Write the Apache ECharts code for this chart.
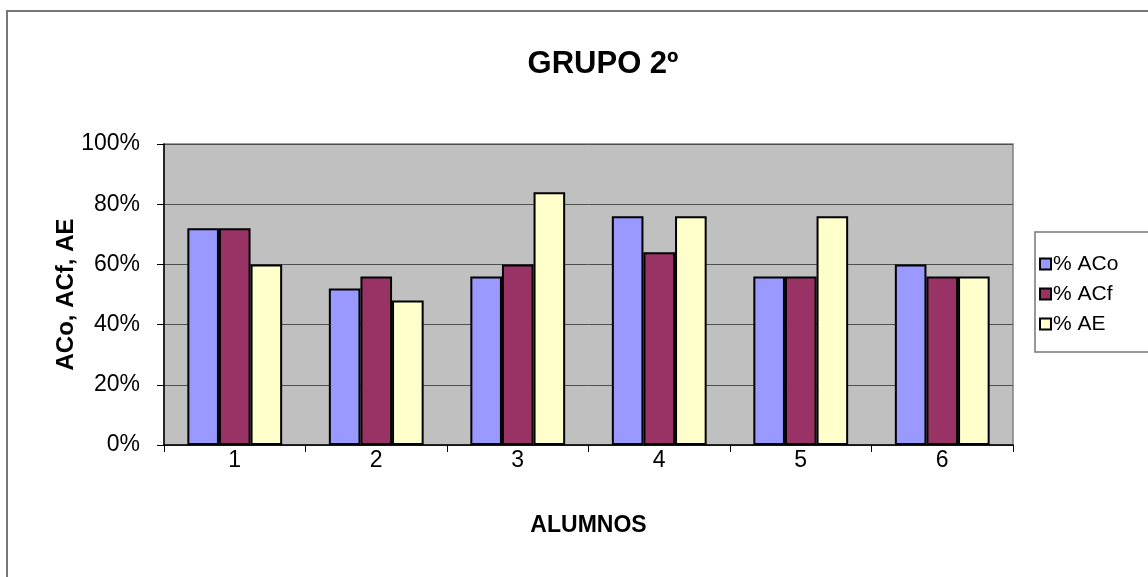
<!DOCTYPE html>
<html>
<head>
<meta charset="utf-8">
<script src="https://cdn.jsdelivr.net/npm/echarts@6/dist/echarts.min.js"></script>
<style>
  html, body { margin: 0; padding: 0; background: #fff; }
  #chart { width: 1148px; height: 577px; }
</style>
</head>
<body>
<div id="chart"></div>
<script>
// Student groups and the three percentage measures per student
const alumnos = ['1', '2', '3', '4', '5', '6'];
const seriesNames = ['% ACo', '% ACf', '% AE'];
const aco = [72, 52, 56, 76, 56, 60];
const acf = [72, 56, 60, 64, 56, 56];
const ae  = [60, 48, 84, 76, 76, 56];
const yTicks = [0, 20, 40, 60, 80, 100];

const colors = ['#9999FF', '#993366', '#FFFFCC'];
const font = 'Liberation Sans, Arial, sans-serif';

const chart = echarts.init(document.getElementById('chart'), null, { renderer: 'canvas' });

const values = [aco, acf, ae];
const series = seriesNames.map((name, i) => ({
  name: name,
  type: 'bar',
  data: values[i],
  barGap: '0%',
  barCategoryGap: '33%',
  itemStyle: { color: colors[i], borderColor: '#000', borderWidth: 2 },
  emphasis: { disabled: true }
}));

chart.setOption({
  animation: false,
  backgroundColor: '#fff',
  title: {
    text: 'GRUPO 2º',
    left: 598,
    textAlign: 'center',
    top: 44,
    textStyle: { fontFamily: font, fontSize: 31, fontWeight: 'bold', color: '#000' }
  },
  graphic: [
    {
      // outer chart frame
      type: 'rect',
      shape: { x: 7, y: 11, width: 1160, height: 600 },
      style: { fill: 'none', stroke: '#777', lineWidth: 2 },
      silent: true
    },
    {
      // legend frame
      type: 'rect',
      shape: { x: 1035, y: 232, width: 130, height: 120 },
      style: { fill: 'none', stroke: '#777', lineWidth: 1.5 },
      silent: true
    }
  ],
  legend: {
    orient: 'vertical',
    left: 1039,
    top: 253,
    padding: 0,
    itemGap: 8,
    itemWidth: 11,
    itemHeight: 11,
    icon: 'rect',
    data: seriesNames.map((n, i) => ({
      name: n,
      itemStyle: { color: colors[i], borderColor: '#000', borderWidth: 2 }
    })),
    textStyle: { fontFamily: font, fontSize: 21, color: '#000', padding: [0, 0, 0, -3], lineHeight: 22 }
  },
  grid: {
    left: 164,
    right: 135,
    top: 144,
    bottom: 132,
    show: true,
    backgroundColor: '#C0C0C0',
    borderColor: '#808080',
    borderWidth: 1.5
  },
  xAxis: {
    type: 'category',
    data: alumnos,
    name: 'ALUMNOS',
    nameLocation: 'middle',
    nameGap: 69,
    nameTextStyle: { fontFamily: font, fontSize: 23, fontWeight: 'bold', color: '#000' },
    axisLine: { lineStyle: { color: '#000', width: 1.5 } },
    axisTick: { show: true, alignWithLabel: false, length: 7, lineStyle: { color: '#000' } },
    axisLabel: { fontFamily: font, fontSize: 23, color: '#000', margin: 4 },
    splitLine: { show: false }
  },
  yAxis: {
    type: 'value',
    min: yTicks[0],
    max: yTicks[yTicks.length - 1],
    interval: 20,
    name: 'ACo, ACf, AE',
    nameLocation: 'middle',
    nameRotate: 90,
    nameGap: 86,
    nameMoveOverlap: false,
    nameTextStyle: { fontFamily: font, fontSize: 24, fontWeight: 'bold', color: '#000' },
    axisLine: { show: true, lineStyle: { color: '#000', width: 1.5 } },
    axisTick: { show: true, length: 7, lineStyle: { color: '#000' } },
    axisLabel: { fontFamily: font, fontSize: 23, color: '#000', margin: 24, formatter: '{value}%' },
    splitLine: { show: true, lineStyle: { color: '#505050', width: 1 } }
  },
  series: series
});
</script>
</body>
</html>
